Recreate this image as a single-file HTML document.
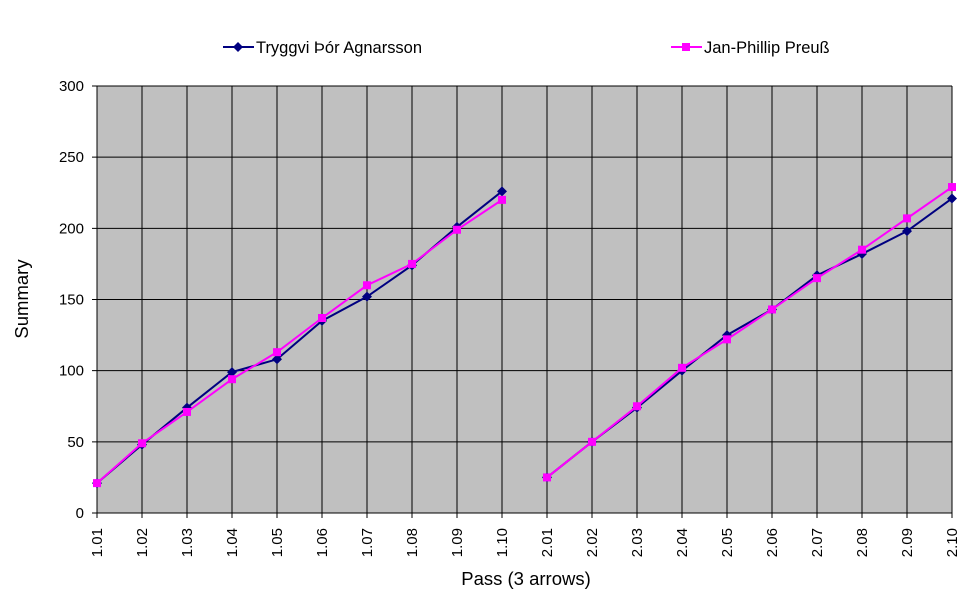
<!DOCTYPE html>
<html><head><meta charset="utf-8"><style>body{margin:0;background:#fff}svg{display:block;font-family:"Liberation Sans",sans-serif}</style></head>
<body>
<svg id="c" width="970" height="600" xmlns="http://www.w3.org/2000/svg"></svg>
<script>
const s=document.getElementById('c');let h='';
const L=97,R=952,T=86,B=513,dx=45,ky=(B-T)/300;
const Y=v=>B-v*ky, X=i=>L+i*dx;
h+=`<rect x="${L}" y="${T}" width="${R-L}" height="${B-T}" fill="#c0c0c0"/>`;
for(let v=0;v<=300;v+=50){h+=`<line x1="${L-5}" y1="${Y(v)}" x2="${R}" y2="${Y(v)}" stroke="#000"/>`;
h+=`<text x="${L-13}" y="${Y(v)+5}" font-size="15" text-anchor="end">${v}</text>`;}
const labs=[];for(let i=1;i<=10;i++)labs.push('1.'+String(i).padStart(2,'0'));for(let i=1;i<=10;i++)labs.push('2.'+String(i).padStart(2,'0'));
labs.forEach((l,i)=>{h+=`<line x1="${X(i)}" y1="${T}" x2="${X(i)}" y2="${B+5}" stroke="#000"/>`;
h+=`<text transform="translate(${X(i)+5},${B+15}) rotate(-90)" font-size="15" text-anchor="end">${l}</text>`;});
h+=`<line x1="${L}" y1="${T}" x2="${L}" y2="${B}" stroke="#000"/><line x1="${L}" y1="${B}" x2="${R}" y2="${B}" stroke="#000"/>`;
const b=[21,48,74,99,108,135,152,174,201,226,25,50,74,100,125,143,167,182,198,221];
const p=[21,49,71,94,113,137,160,175,199,220,25,50,75,102,122,143,165,185,207,229];
function line(d,c,dia){for(const seg of [[0,10],[10,20]]){let pts=[];for(let i=seg[0];i<seg[1];i++)pts.push(X(i)+','+Y(d[i]));
h+=`<polyline points="${pts.join(' ')}" fill="none" stroke="${c}" stroke-width="2"/>`;}
d.forEach((v,i)=>{const x=X(i),y=Y(v);h+=dia?`<polygon points="${x},${y-5} ${x+5},${y} ${x},${y+5} ${x-5},${y}" fill="${c}"/>`:`<rect x="${x-4}" y="${y-4}" width="8" height="8" fill="${c}"/>`;});}
line(b,'#000080',true);line(p,'#ff00ff',false);
h+=`<line x1="223" y1="47" x2="254" y2="47" stroke="#000080" stroke-width="2"/><polygon points="238,42 243,47 238,52 233,47" fill="#000080"/>`;
h+=`<text x="256" y="53" font-size="16.5" textLength="166">Tryggvi Þór Agnarsson</text>`;
h+=`<line x1="671" y1="47" x2="702" y2="47" stroke="#ff00ff" stroke-width="2"/><rect x="682" y="43" width="8" height="8" fill="#ff00ff"/>`;
h+=`<text x="704" y="53" font-size="16.5">Jan-Phillip Preuß</text>`;
h+=`<text x="526" y="585" font-size="18.5" text-anchor="middle">Pass (3 arrows)</text>`;
h+=`<text transform="translate(28,299) rotate(-90)" font-size="18.5" text-anchor="middle">Summary</text>`;
s.innerHTML=h;
</script>
</body></html>
